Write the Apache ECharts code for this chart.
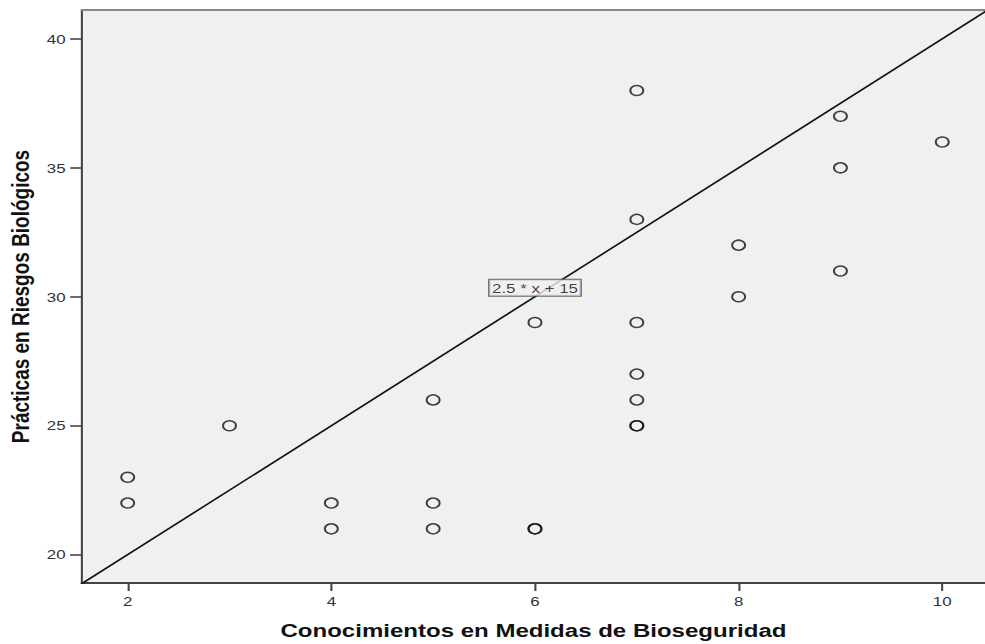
<!DOCTYPE html>
<html>
<head>
<meta charset="utf-8">
<script src="https://cdn.jsdelivr.net/npm/echarts@6/dist/echarts.min.js"></script>
<style>
  html, body { margin: 0; padding: 0; background: #ffffff; overflow: hidden; }
  /* la imagen original esta estirada en horizontal: se dibuja a 758px y se estira a 985px */
  #grafico { width: 758px; height: 644px; transform: scaleX(1.2995); transform-origin: 0 0; }
</style>
</head>
<body>
<div id="grafico"></div>
<script>
// Datos (Conocimientos vs Practicas)
let conocimientos = [2, 2, 3, 4, 4, 5, 5, 5, 6, 6, 6, 7, 7, 7, 7, 7, 7, 7, 8, 8, 9, 9, 9, 10];
let practicas = [23, 22, 25, 22, 21, 26, 22, 21, 29, 21, 21, 38, 33, 29, 27, 26, 25, 25, 32, 30, 37, 35, 31, 36];

// Recta de referencia 2.5 * x + 15 (dos puntos de la recta, recortada por los ejes)
let rectaX = [0, 12];
let rectaY = [15, 45];
let etiquetaRecta = '2.5 * x + 15';
let posEtiqueta = [6, 30];

let ticksX = [2, 4, 6, 8, 10];
let ticksY = [20, 25, 30, 35, 40];

let puntos = conocimientos.map((x, i) => [x, practicas[i]]);
let recta = rectaX.map((x, i) => [x, rectaY[i]]);

let chart = echarts.init(document.getElementById('grafico'), null, { renderer: 'svg' });

let option = {
    animation: false,
    grid: {
        left: 63,
        top: 10,
        right: 0,
        bottom: 61,
        outerBoundsMode: 'none',
        show: true,
        backgroundColor: '#f0f0f0',
        borderWidth: 0
    },
    xAxis: [{
        type: 'value',
        min: 1.55,
        max: 10.42,
        name: 'Conocimientos en Medidas de Bioseguridad',
        nameLocation: 'middle',
        nameGap: 38,
        nameTextStyle: {
            fontFamily: 'Liberation Sans',
            fontWeight: 'bold',
            fontSize: 18.5,
            color: '#111'
        },
        splitLine: { show: false },
        axisLine: { onZero: false, lineStyle: { color: '#444', width: 2 } },
        axisTick: { customValues: ticksX, length: 8, lineStyle: { color: '#444', width: 1.6 } },
        axisLabel: {
            customValues: ticksX,
            margin: 12,
            fontFamily: 'Liberation Sans',
            fontSize: 13,
            color: '#333'
        }
    }, {
        type: 'value',
        position: 'top',
        min: 1.55,
        max: 10.42,
        splitLine: { show: false },
        axisLine: { onZero: false, lineStyle: { color: '#888', width: 2 } },
        axisTick: { show: false },
        axisLabel: { show: false }
    }],
    yAxis: {
        type: 'value',
        min: 18.9,
        max: 41.12,
        name: 'Prácticas en Riesgos Biológicos',
        nameLocation: 'middle',
        nameGap: 37,
        nameTextStyle: {
            fontFamily: 'Liberation Sans',
            fontWeight: 'bold',
            fontSize: 19,
            color: '#111'
        },
        splitLine: { show: false },
        axisLine: { show: true, onZero: false, lineStyle: { color: '#444', width: 1.6 } },
        axisTick: { show: true, customValues: ticksY, length: 9, lineStyle: { color: '#444', width: 1.6 } },
        axisLabel: {
            customValues: ticksY,
            margin: 12.5,
            fontFamily: 'Liberation Sans',
            fontSize: 13,
            color: '#333'
        }
    },
    series: [{
        name: 'Recta',
        type: 'line',
        data: recta,
        clip: true,
        symbol: 'none',
        lineStyle: { color: '#111', width: 1.5 },
        z: 2
    }, {
        name: 'Etiqueta',
        type: 'scatter',
        data: [posEtiqueta],
        symbolSize: 0,
        label: {
            show: true,
            position: 'inside',
            offset: [0, -9],
            formatter: etiquetaRecta,
            fontFamily: 'Liberation Sans',
            fontSize: 13,
            color: '#111',
            backgroundColor: '#f0f0f0',
            borderColor: '#444',
            borderWidth: 1,
            padding: [2, 2, 1, 2]
        },
        z: 3
    }, {
        name: 'Practicas',
        type: 'scatter',
        data: puntos,
        symbol: 'circle',
        symbolSize: 10,
        itemStyle: {
            color: 'rgba(0,0,0,0)',
            borderColor: '#111',
            borderWidth: 1.5
        },
        z: 4
    }]
};

option && chart.setOption(option);
window.addEventListener('resize', chart.resize);
</script>
</body>
</html>
